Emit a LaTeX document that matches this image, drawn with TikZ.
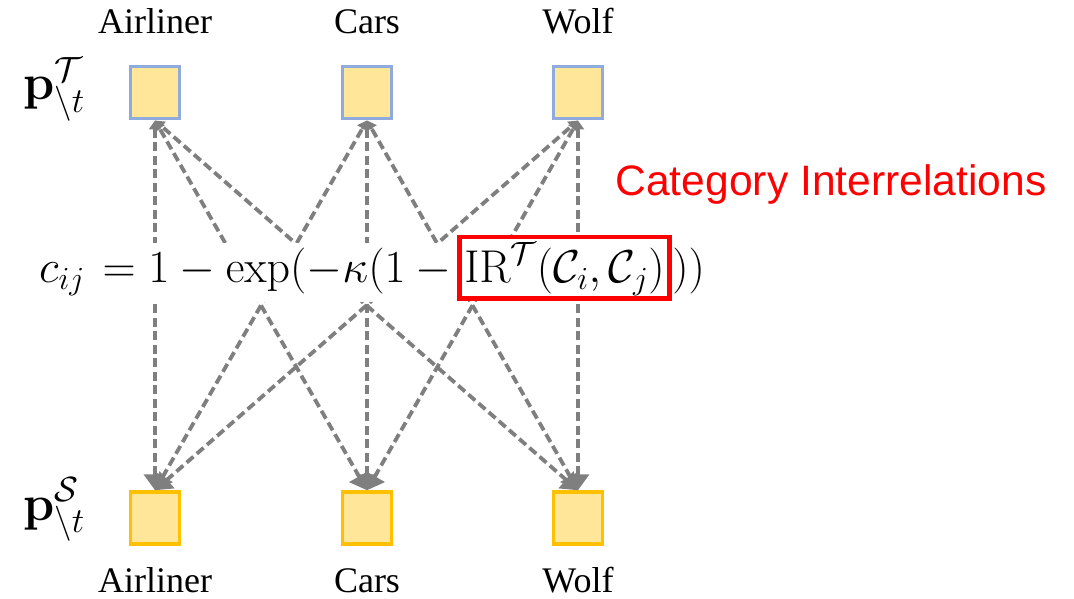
\documentclass[tikz,border=0pt]{standalone}
\usepackage{fix-cm}
\usepackage{amsmath}
\usepackage[no-math]{fontspec}
\setmainfont{Liberation Serif}
\newfontfamily\arialfont{Liberation Sans}
\usetikzlibrary{arrows.meta,positioning}
\definecolor{boxfill}{HTML}{FFE699}
\definecolor{tborder}{HTML}{8FAADC}
\definecolor{sborder}{HTML}{FFC000}
\definecolor{linkgray}{HTML}{7F7F7F}
\tikzset{
  tbox/.style={draw=tborder, fill=boxfill, line width=3pt, minimum width=49pt, minimum height=52pt, inner sep=0pt},
  sbox/.style={draw=sborder, fill=boxfill, line width=3.5pt, minimum width=49pt, minimum height=52pt, inner sep=0pt},
  catname/.style={font=\fontsize{36}{40}\selectfont, anchor=base, inner sep=1pt},
  link/.style={draw=linkgray, line width=3.8pt, dash pattern=on 9pt off 4.5pt, {Triangle[length=16pt,width=22pt]}-{Triangle[length=9pt,width=12pt]}},
  eqpart/.style={font=\fontsize{46}{50}\selectfont, fill=white, inner xsep=0pt, inner ysep=6pt}
}

\begin{document}
\begin{tikzpicture}[x=1pt,y=1pt]
  \useasboundingbox (0,0) rectangle (1074,598);

  % target row on top, source row below
  \foreach \n/\x/\name in {a/155/Airliner, c/367/Cars, w/578/Wolf} {
    \node[tbox] (t\n) at (\x,505) {};
    \node[sbox] (s\n) at (\x,80) {};
    \node[catname] (tl\n) at (\x,564) {\name};
    \node[catname] (sl\n) at (\x,6) {\name};
  }
  \node[anchor=base west, inner sep=1pt, font=\fontsize{50}{54}\selectfont] (ptgt) at (22,498) {$\mathbf{p}^{\mathcal{T}}_{\backslash t}$};
  \node[anchor=base west, inner sep=1pt, font=\fontsize{50}{54}\selectfont] (psrc) at (22,78) {$\mathbf{p}^{\mathcal{S}}_{\backslash t}$};

  \foreach \i in {a,c,w} {
    \foreach \j in {a,c,w} {
      \draw[link] (s\j.north) -- (t\i.south);
    }
  }

  % weight formula, drawn over the links
  \node[eqpart, anchor=base west] (eqL) at (39,315) {$c_{ij}\mkern2mu = 1 - \exp(-\kappa(1 - {}\mkern-2mu$};
  \node[eqpart, base right=0pt of eqL, draw=red, line width=4.7pt, inner xsep=5pt, inner ysep=4pt,
        text height=42pt, text depth=11.5pt] (eqIR) {$\mathrm{IR}^{\mathcal{T}}(\mathcal{C}_i,\mathcal{C}_j)$};
  \node[eqpart, base right=0pt of eqIR] (eqR) {$))$};

  \node[anchor=base west, text=red, font=\arialfont\fontsize{42.6}{46}\selectfont] (relnote) at (612,402) {Category Interrelations};
\end{tikzpicture}
\end{document}
